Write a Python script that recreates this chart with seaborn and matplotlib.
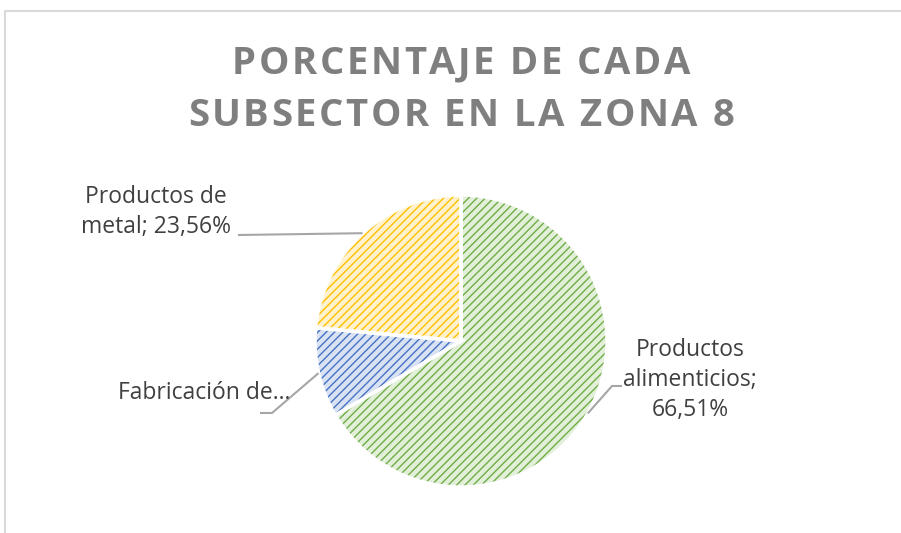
import matplotlib
matplotlib.use("Agg")
import matplotlib.pyplot as plt
import seaborn as sns
import numpy as np
from matplotlib.font_manager import FontProperties
from matplotlib.textpath import TextToPath

# datos
subsectores = ["Productos alimenticios", "Fabricación de...", "Productos de metal"]
porcentajes = [66.51, 9.93, 23.56]
etiquetas = ["Productos\nalimenticios;\n66,51%", "Fabricación de…", "Productos de\nmetal; 23,56%"]
titulo = ["PORCENTAJE DE CADA", "SUBSECTOR EN LA ZONA 8"]

fondo = ["#E2EFD9", "#D9E2F3", "#FFF2CC"]
trama = ["#70AD47", "#4472C4", "#FFC000"]

W, H = 901, 533
sns.set_theme(style="white")
plt.rcParams['font.family'] = ['Open Sans', 'DejaVu Sans']
plt.rcParams['hatch.linewidth'] = 1.0

fig = plt.figure(figsize=(W / 100, H / 100), dpi=100)
ax = fig.add_axes([0, 0, 1, 1])

def py(y):
    return H - y

centro = (461, py(341))
radio = 146

# capa de fondo
ax.pie(porcentajes, colors=fondo, startangle=90, counterclock=False,
       center=centro, radius=radio, wedgeprops=dict(linewidth=0))
# capa de trama
cuñas, _ = ax.pie(porcentajes, colors=["none"] * 3, startangle=90, counterclock=False,
                  center=centro, radius=radio, hatch="////", wedgeprops=dict(linewidth=0))
for w, c in zip(cuñas, trama):
    w.set_edgecolor(c)
    w.set_linewidth(0)
# bordes blancos
bordes, _ = ax.pie(porcentajes, colors=["none"] * 3, startangle=90, counterclock=False,
                   center=centro, radius=radio,
                   wedgeprops=dict(edgecolor="white", linewidth=2.5))

# etiquetas y líneas guía
pos_texto = [(690, 380, "center"), (290, 393, "right"), (156, 212, "center")]
codos = [[(622, 386), (612, 386)], [(260, 413), (272, 413)], [(238, 235)]]
gris_txt = "#404040"
for w, lab, (tx, ty, ha), codo in zip(bordes, etiquetas, pos_texto, codos):
    ang = np.deg2rad((w.theta1 + w.theta2) / 2)
    ex = centro[0] + radio * np.cos(ang)
    ey = centro[1] + radio * np.sin(ang)
    xs = [p[0] for p in codo] + [ex]
    ys = [py(p[1]) for p in codo] + [ey]
    ax.plot(xs, ys, color="#A6A6A6", lw=1.5, solid_capstyle="butt")
    ax.text(tx, py(ty), lab, ha=ha, va="center", multialignment="center",
            fontsize=16.5, color=gris_txt, linespacing=1.35)

# título con espaciado entre letras
prop = FontProperties(family="Open Sans", weight="bold", size=27.5)
ttp = TextToPath()
def texto_espaciado(s, cx, y, extra):
    anchos = [ttp.get_text_width_height_descent(ch, prop, ismath=False)[0] * 100 / 72 for ch in s]
    total = sum(anchos) + extra * (len(s) - 1)
    x = cx - total / 2
    for ch, a in zip(s, anchos):
        ax.text(x, y, ch, fontproperties=prop, color="#7F7F7F", ha="left", va="baseline")
        x += a + extra

texto_espaciado(titulo[0], 461, py(74), 2.6)
texto_espaciado(titulo[1], 461, py(126), 2.6)

# marco del gráfico
ax.plot([5, 5, W], [0, py(11), py(11)], color="#D9D9D9", lw=1.5)

ax.set_xlim(0, W)
ax.set_ylim(0, H)
ax.set_aspect("equal")
ax.axis("off")

fig.savefig("out.png", dpi=100, facecolor="white")
